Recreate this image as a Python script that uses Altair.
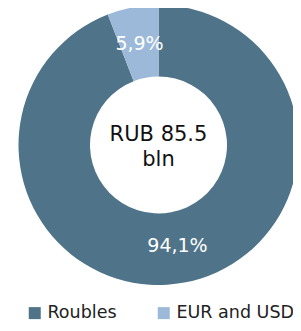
import altair as alt
import pandas as pd

categories = ["Roubles", "EUR and USD"]
values = [94.1, 5.9]
labels = ["94,1%", "5,9%"]
center_text = ["RUB 85.5", "bln"]
colors = ["#4F7489", "#9DB9D9"]

df = pd.DataFrame({"cat": categories, "val": values, "lab": labels, "ord": [0, 1]})
cdf = pd.DataFrame({"t": [center_text]})

CX, CY = 150.5, 137

base = alt.Chart(df).encode(
    theta=alt.Theta("val:Q", stack=True),
    order=alt.Order("ord:Q"),
    x=alt.value(CX),
    y=alt.value(CY),
)

arcs = base.mark_arc(radius=140, radius2=68.5, stroke=None).encode(
    color=alt.Color(
        "cat:N",
        scale=alt.Scale(domain=categories, range=colors),
        sort=categories,
        legend=alt.Legend(
            title=None,
            orient="none",
            direction="horizontal",
            legendX=18,
            legendY=296,
            symbolType="square",
            symbolSize=144,
            symbolStrokeWidth=0,
            symbolOpacity=1,
            labelFontSize=17.5,
            labelFont="DejaVu Sans",
            labelColor="#222222",
            labelOffset=4,
            columnPadding=38,
        ),
    )
)

pct = base.mark_text(radius=103, font="DejaVu Sans", fontSize=19, color="white").encode(
    text="lab:N"
)

center = alt.Chart(cdf).mark_text(
    font="DejaVu Sans", fontSize=21, color="#111111", lineHeight=25, baseline="middle"
).encode(text="t", x=alt.value(CX), y=alt.value(CY - 10))

chart = (
    alt.layer(arcs, pct, center)
    .properties(width=285, height=315, padding=0, autosize=alt.AutoSizeParams(type="none"))
    .configure_view(stroke=None)
)

chart.save("out.html", embed_options={"renderer": "svg", "actions": False})
